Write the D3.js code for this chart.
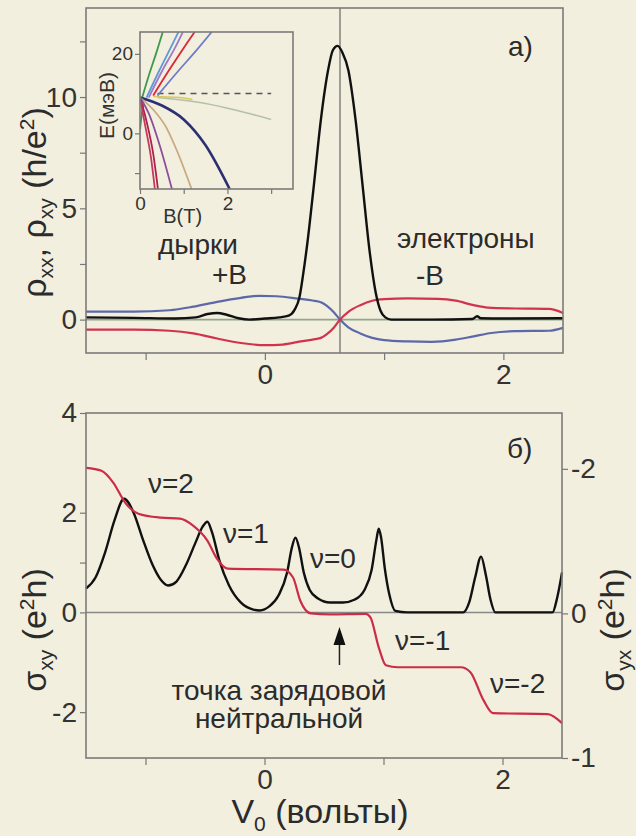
<!DOCTYPE html>
<html>
<head>
<meta charset="utf-8">
<script src="https://cdnjs.cloudflare.com/ajax/libs/d3/7.8.5/d3.min.js"></script>
<style>
  body { margin: 0; background: #f2efdf; }
  svg { display: block; font-family: "Liberation Sans", Arial, sans-serif; }
  .axis path { display: none; }
  .axis line { stroke: #777; stroke-width: 1.2; }
  .axis text { font-size: 28px; fill: #333; }
  .inset .axis text { font-size: 19px; }
  .frame { fill: none; stroke: #7b7b7b; stroke-width: 1.6; }
  .note { font-size: 28px; fill: #2b2b2b; }
</style>
</head>
<body>
<div id="chart"></div>
<script>
var svgWidth = 636;
var svgHeight = 836;

// ---- panel a) : rho vs V0 (read off the picture) ----
var rhoXX = [[-1.5, 0.1], [-1.1, 0.08], [-0.75, 0.05], [-0.58, 0.1], [-0.48, 0.25], [-0.4, 0.3],
  [-0.32, 0.22], [-0.22, 0.06], [-0.13, 0.0], [0.0, 0.05], [0.12, 0.1], [0.2, 0.18], [0.25, 0.45],
  [0.29, 1.0], [0.32, 2.0], [0.36, 3.6], [0.41, 6.0], [0.47, 9.0], [0.53, 11.2], [0.57, 12.1],
  [0.61, 12.3], [0.65, 12.0], [0.7, 11.2], [0.76, 9.0], [0.82, 6.0], [0.88, 3.0], [0.93, 1.2],
  [0.97, 0.4], [1.01, 0.1], [1.06, 0.0], [1.4, 0.0], [1.74, 0.03], [1.78, 0.15], [1.81, 0.06],
  [2.0, 0.05], [2.5, 0.06]];

var rhoXYplus = [[-1.5, 0.36], [-1.1, 0.36], [-0.8, 0.42], [-0.6, 0.58], [-0.4, 0.8], [-0.2, 0.98],
  [-0.05, 1.07], [0.1, 1.05], [0.28, 0.94], [0.4, 0.86], [0.47, 0.78], [0.52, 0.62], [0.58, 0.32],
  [0.63, 0.0], [0.7, -0.35], [0.8, -0.62], [0.9, -0.82], [1.0, -0.92], [1.2, -0.98], [1.4, -1.0],
  [1.6, -0.9], [1.75, -0.75], [1.9, -0.6], [2.1, -0.52], [2.38, -0.5], [2.5, -0.37]];

var rhoXYminus = [[-1.5, -0.45], [-1.1, -0.45], [-0.8, -0.5], [-0.6, -0.62], [-0.4, -0.85],
  [-0.2, -1.05], [0.0, -1.15], [0.15, -1.12], [0.3, -0.98], [0.42, -0.88], [0.47, -0.82],
  [0.52, -0.65], [0.58, -0.35], [0.63, 0.0], [0.7, 0.35], [0.8, 0.65], [0.9, 0.85], [1.0, 0.92],
  [1.2, 0.95], [1.45, 0.93], [1.6, 0.85], [1.75, 0.65], [1.87, 0.54], [2.1, 0.5], [2.38, 0.48],
  [2.5, 0.3]];

var neutralV = 0.63;

// ---- panel b) : sigma vs V0 ----
var sigmaXY = [[-1.5, 0.48], [-1.42, 0.7], [-1.34, 1.2], [-1.26, 1.85], [-1.18, 2.28], [-1.1, 2.0],
  [-1.02, 1.45], [-0.94, 0.95], [-0.87, 0.65], [-0.81, 0.54], [-0.74, 0.62], [-0.66, 0.95],
  [-0.58, 1.4], [-0.52, 1.72], [-0.48, 1.82], [-0.44, 1.6], [-0.38, 1.05], [-0.3, 0.55],
  [-0.2, 0.2], [-0.1, 0.06], [-0.04, 0.04], [0.04, 0.12], [0.12, 0.35], [0.19, 0.8],
  [0.23, 1.3], [0.26, 1.5], [0.29, 1.3], [0.33, 0.8], [0.38, 0.45], [0.45, 0.28], [0.55, 0.2],
  [0.66, 0.2], [0.76, 0.26], [0.84, 0.45], [0.9, 0.85], [0.94, 1.45], [0.96, 1.68], [0.98, 1.5],
  [1.01, 0.9], [1.05, 0.35], [1.1, 0.03], [1.2, 0.0], [1.67, 0.0], [1.72, 0.2], [1.77, 0.7],
  [1.82, 1.12], [1.86, 0.75], [1.9, 0.25], [1.94, 0.0], [2.42, 0.0], [2.46, 0.3], [2.5, 0.8]];

var sigmaYX = [[-1.5, 2.9], [-1.37, 2.84], [-1.27, 2.6], [-1.17, 2.2], [-1.06, 1.98], [-0.87, 1.9],
  [-0.71, 1.88], [-0.6, 1.74], [-0.48, 1.44], [-0.4, 1.08], [-0.31, 0.88], [0.16, 0.86],
  [0.24, 0.7], [0.3, 0.24], [0.39, -0.02], [0.55, -0.04], [0.85, -0.03], [0.89, -0.1],
  [0.96, -0.7], [1.02, -1.06], [1.12, -1.1], [1.65, -1.1], [1.73, -1.2], [1.84, -1.76],
  [1.92, -2.02], [2.38, -2.04], [2.5, -2.22]];

// ---- inset : Landau levels E(meV) vs B(T) ----
var levelsUp = [
  [[0.05, 9], [0.2, 14.5], [0.38, 20.5], [0.52, 25.5]],
  [[0.15, 9], [0.45, 16], [0.7, 21.5], [0.88, 25.5]],
  [[0.2, 9], [0.52, 16], [0.8, 21.5], [0.98, 25.5]],
  [[0.3, 9.5], [0.7, 16.5], [1.0, 21.5], [1.25, 25.5]],
  [[0.4, 9.5], [0.9, 16], [1.3, 21], [1.64, 25.5]]
];
var levelsDown = [
  [[0, 9], [0.5, 7], [1.0, 3.5], [1.5, -3], [2.05, -14]],
  [[0, 9], [0.3, 6], [0.6, 1.5], [0.85, -4.5], [1.18, -14]],
  [[0, 9], [0.2, 5], [0.45, -3], [0.73, -14]],
  [[0, 9], [0.15, 3], [0.3, -5], [0.41, -14]],
  [[0, 9], [0.1, 3], [0.25, -6], [0.34, -14]]
];
var levelGreen = [[0, 1], [0.03, 4], [0.08, 7.5]];
var levelGrey = [[0.4, 9], [1.5, 7.5], [2.2, 5.8], [3.0, 3.5]];
var levelYellow = [[0.3, 9.3], [0.9, 9.0], [1.2, 8.5]];
var levelDashed = [[0.4, 10], [3.0, 10]];
var upColors = ["#3d9a4c", "#5c9bd6", "#a07ac6", "#d8283a", "#6f7cc8"];
var downColors = ["#2c2f72", "#c9aa80", "#8d4f9c", "#b0204c", "#c23a5c"];

// tick values / labels
var xTicks = [-1, 0, 1, 2];
var xTickLabels = ["", "0", "", "2"];
var rhoTicks = [0, 2.5, 5, 7.5, 10, 12.5];
var rhoTickLabels = ["0", "", "5", "", "10", ""];
var sigTicks = [-2, 0, 1, 2, 4];
var sigTickLabels = ["-2", "0", "", "2", "4"];
var sigRightTicks = [-2, 0, 2];
var sigRightLabels = ["-2", "0", "-1"];
var insetXTicks = [0, 1, 2, 3];
var insetXLabels = ["0", "", "2", ""];
var insetYTicks = [-10, 0, 20];
var insetYLabels = ["", "0", "20"];

var svg = d3.select("#chart").append("svg")
  .attr("width", svgWidth)
  .attr("height", svgHeight);

svg.append("rect").attr("width", svgWidth).attr("height", svgHeight).attr("fill", "#f2efdf");

function labelFmt(ticks, labels) {
  return function(d) { return labels[ticks.indexOf(d)]; };
}

// ================= panel a =================
var pA = { left: 86, right: 563, top: 8, bottom: 353 };
var xA = d3.scaleLinear().domain([-1.5, 2.5]).range([pA.left, pA.right]);
var yA = d3.scaleLinear().domain([-1.5, 14]).range([pA.bottom, pA.top]);

svg.append("g").attr("class", "axis")
  .attr("transform", `translate(0, ${pA.bottom})`)
  .call(d3.axisBottom(xA).tickValues(xTicks).tickFormat(labelFmt(xTicks, xTickLabels)).tickSize(7).tickPadding(4));

svg.append("g").attr("class", "axis")
  .attr("transform", `translate(${pA.left}, 0)`)
  .call(d3.axisLeft(yA).tickValues(rhoTicks).tickFormat(labelFmt(rhoTicks, rhoTickLabels)).tickSize(6).tickPadding(3));

// zero line and neutrality line
svg.append("line")
  .attr("x1", xA(-1.5)).attr("x2", xA(2.5)).attr("y1", yA(0)).attr("y2", yA(0))
  .attr("stroke", "#8fa88a").attr("stroke-width", 1.6);
svg.append("line")
  .attr("x1", xA(neutralV)).attr("x2", xA(neutralV)).attr("y1", pA.top).attr("y2", pA.bottom)
  .attr("stroke", "#666").attr("stroke-width", 1.2);

var lineA = d3.line().x(d => xA(d[0])).y(d => yA(d[1])).curve(d3.curveMonotoneX);

svg.append("path").datum(rhoXYplus).attr("d", lineA)
  .attr("fill", "none").attr("stroke", "#5d68a8").attr("stroke-width", 2.2);
svg.append("path").datum(rhoXYminus).attr("d", lineA)
  .attr("fill", "none").attr("stroke", "#d2334c").attr("stroke-width", 2.2);
svg.append("path").datum(rhoXX).attr("d", lineA)
  .attr("fill", "none").attr("stroke", "#111").attr("stroke-width", 2.4);

svg.append("rect").attr("class", "frame")
  .attr("x", pA.left).attr("y", pA.top)
  .attr("width", pA.right - pA.left).attr("height", pA.bottom - pA.top);

// ---- inset ----
var ins = { left: 140, right: 293, top: 32, bottom: 189 };
var xI = d3.scaleLinear().domain([0, 3.5]).range([ins.left, ins.right]);
var yI = d3.scaleLinear().domain([-14, 25.5]).range([ins.bottom, ins.top]);
var inset = svg.append("g").attr("class", "inset");

inset.append("clipPath").attr("id", "insClip").append("rect")
  .attr("x", ins.left).attr("y", ins.top)
  .attr("width", ins.right - ins.left).attr("height", ins.bottom - ins.top);

inset.append("g").attr("class", "axis")
  .attr("transform", `translate(0, ${ins.bottom})`)
  .call(d3.axisBottom(xI).tickValues(insetXTicks).tickFormat(labelFmt(insetXTicks, insetXLabels)).tickSize(5).tickPadding(3));
inset.append("g").attr("class", "axis")
  .attr("transform", `translate(${ins.left}, 0)`)
  .call(d3.axisLeft(yI).tickValues(insetYTicks).tickFormat(labelFmt(insetYTicks, insetYLabels)).tickSize(5).tickPadding(2));

var lineI = d3.line().x(d => xI(d[0])).y(d => yI(d[1])).curve(d3.curveMonotoneX);
var lineIy = d3.line().x(d => xI(d[0])).y(d => yI(d[1])).curve(d3.curveMonotoneY);
var lv = inset.append("g").attr("clip-path", "url(#insClip)");

lv.append("path").datum(levelDashed).attr("d", lineI)
  .attr("fill", "none").attr("stroke", "#555").attr("stroke-width", 1.5).attr("stroke-dasharray", "6,5");
lv.append("path").datum(levelGrey).attr("d", lineI)
  .attr("fill", "none").attr("stroke", "#b4c0a4").attr("stroke-width", 1.5);
lv.append("path").datum(levelYellow).attr("d", lineI)
  .attr("fill", "none").attr("stroke", "#d8c85a").attr("stroke-width", 1.5);
lv.append("path").datum(levelGreen).attr("d", lineIy)
  .attr("fill", "none").attr("stroke", "#3d9a4c").attr("stroke-width", 2);
levelsUp.forEach(function(pts, i) {
  lv.append("path").datum(pts).attr("d", lineIy)
    .attr("fill", "none").attr("stroke", upColors[i]).attr("stroke-width", 1.8);
});
levelsDown.forEach(function(pts, i) {
  lv.append("path").datum(pts).attr("d", lineI)
    .attr("fill", "none").attr("stroke", downColors[i]).attr("stroke-width", i === 0 ? 2.6 : 1.8);
});

inset.append("rect").attr("class", "frame")
  .attr("x", ins.left).attr("y", ins.top)
  .attr("width", ins.right - ins.left).attr("height", ins.bottom - ins.top);

inset.append("text")
  .attr("transform", `translate(114, ${(ins.top + ins.bottom) / 2 - 5}) rotate(-90)`)
  .attr("text-anchor", "middle").attr("font-size", 21).attr("fill", "#333")
  .text("E(мэВ)");
inset.append("text")
  .attr("x", xI(1) - 1).attr("y", 223).attr("text-anchor", "middle")
  .attr("font-size", 20).attr("fill", "#333").text("B(T)");

// ---- panel a labels ----
svg.append("text").attr("class", "note").attr("x", 508).attr("y", 56).text("а)");
svg.append("text").attr("class", "note").attr("x", 158).attr("y", 254).text("дырки");
svg.append("text").attr("class", "note").attr("x", 212).attr("y", 284).text("+B");
svg.append("text").attr("class", "note").attr("x", 397).attr("y", 248).text("электроны");
svg.append("text").attr("class", "note").attr("x", 416).attr("y", 285).text("-B");

var rhoLabel = svg.append("text")
  .attr("transform", `translate(46, ${(pA.top + pA.bottom) / 2 + 22}) rotate(-90)`)
  .attr("text-anchor", "middle").attr("font-size", 34).attr("fill", "#2b2b2b");
rhoLabel.append("tspan").text("ρ");
rhoLabel.append("tspan").attr("font-size", 21).attr("dy", 7).text("xx");
rhoLabel.append("tspan").attr("dy", -7).text(", ρ");
rhoLabel.append("tspan").attr("font-size", 21).attr("dy", 7).text("xy");
rhoLabel.append("tspan").attr("dy", -7).text(" (h/e");
rhoLabel.append("tspan").attr("font-size", 21).attr("dy", -12).text("2");
rhoLabel.append("tspan").attr("dy", 12).text(")");

// ================= panel b =================
var pB = { left: 86, right: 562, top: 413, bottom: 758 };
var xB = d3.scaleLinear().domain([-1.5, 2.5]).range([pB.left, pB.right]);
var yB = d3.scaleLinear().domain([-2.92, 4]).range([pB.bottom, pB.top]);
var yBr = d3.scaleLinear().domain([-2, 2]).range([yB(2.88), pB.bottom]);

svg.append("g").attr("class", "axis")
  .attr("transform", `translate(0, ${pB.bottom})`)
  .call(d3.axisBottom(xB).tickValues(xTicks).tickFormat(labelFmt(xTicks, xTickLabels)).tickSize(7).tickPadding(4));
svg.append("g").attr("class", "axis")
  .attr("transform", `translate(${pB.left}, 0)`)
  .call(d3.axisLeft(yB).tickValues(sigTicks).tickFormat(labelFmt(sigTicks, sigTickLabels)).tickSize(6).tickPadding(3));
svg.append("g").attr("class", "axis")
  .attr("transform", `translate(${pB.right}, 0)`)
  .call(d3.axisRight(yBr).tickValues(sigRightTicks).tickFormat(labelFmt(sigRightTicks, sigRightLabels)).tickSize(6).tickPadding(3));

svg.append("line")
  .attr("x1", xB(-1.5)).attr("x2", xB(2.5)).attr("y1", yB(0)).attr("y2", yB(0))
  .attr("stroke", "#888").attr("stroke-width", 1.5);

var lineB = d3.line().x(d => xB(d[0])).y(d => yB(d[1])).curve(d3.curveMonotoneX);
svg.append("path").datum(sigmaXY).attr("d", lineB)
  .attr("fill", "none").attr("stroke", "#111").attr("stroke-width", 2.4);
svg.append("path").datum(sigmaYX).attr("d", lineB)
  .attr("fill", "none").attr("stroke", "#cc2c46").attr("stroke-width", 2.2);

svg.append("rect").attr("class", "frame")
  .attr("x", pB.left).attr("y", pB.top)
  .attr("width", pB.right - pB.left).attr("height", pB.bottom - pB.top);

// filling factor labels
svg.append("text").attr("class", "note").attr("x", 148).attr("y", 493).text("ν=2");
svg.append("text").attr("class", "note").attr("x", 223).attr("y", 543).text("ν=1");
svg.append("text").attr("class", "note").attr("x", 310).attr("y", 568).text("ν=0");
svg.append("text").attr("class", "note").attr("x", 395).attr("y", 650).text("ν=-1");
svg.append("text").attr("class", "note").attr("x", 490).attr("y", 693).text("ν=-2");
svg.append("text").attr("class", "note").attr("x", 507).attr("y", 458).text("б)");

// arrow to the neutrality point
var ax = xB(neutralV);
svg.append("line").attr("x1", ax).attr("x2", ax).attr("y1", 665).attr("y2", 640)
  .attr("stroke", "#222").attr("stroke-width", 1.5);
svg.append("path")
  .attr("d", `M${ax},627 L${ax - 6},645 L${ax + 6},645 Z`)
  .attr("fill", "#111");
svg.append("text").attr("class", "note").attr("x", 279).attr("y", 700)
  .attr("text-anchor", "middle").text("точка зарядовой");
svg.append("text").attr("class", "note").attr("x", 279).attr("y", 728)
  .attr("text-anchor", "middle").text("нейтральной");

// axis titles
var sxy = svg.append("text")
  .attr("transform", `translate(46, 630) rotate(-90)`)
  .attr("text-anchor", "middle").attr("font-size", 34).attr("fill", "#2b2b2b");
sxy.append("tspan").text("σ");
sxy.append("tspan").attr("font-size", 21).attr("dy", 7).text("xy");
sxy.append("tspan").attr("dy", -7).text(" (e");
sxy.append("tspan").attr("font-size", 21).attr("dy", -12).text("2");
sxy.append("tspan").attr("dy", 12).text("h)");

var syx = svg.append("text")
  .attr("transform", `translate(624, 630) rotate(-90)`)
  .attr("text-anchor", "middle").attr("font-size", 34).attr("fill", "#2b2b2b");
syx.append("tspan").text("σ");
syx.append("tspan").attr("font-size", 21).attr("dy", 7).text("yx");
syx.append("tspan").attr("dy", -7).text(" (e");
syx.append("tspan").attr("font-size", 21).attr("dy", -12).text("2");
syx.append("tspan").attr("dy", 12).text("h)");

var vLabel = svg.append("text")
  .attr("x", (pB.left + pB.right) / 2 - 4).attr("y", 823)
  .attr("text-anchor", "middle").attr("font-size", 34).attr("fill", "#2b2b2b");
vLabel.append("tspan").text("V");
vLabel.append("tspan").attr("font-size", 21).attr("dy", 8).text("0");
vLabel.append("tspan").attr("dy", -8).text(" (вольты)");
</script>
</body>
</html>
